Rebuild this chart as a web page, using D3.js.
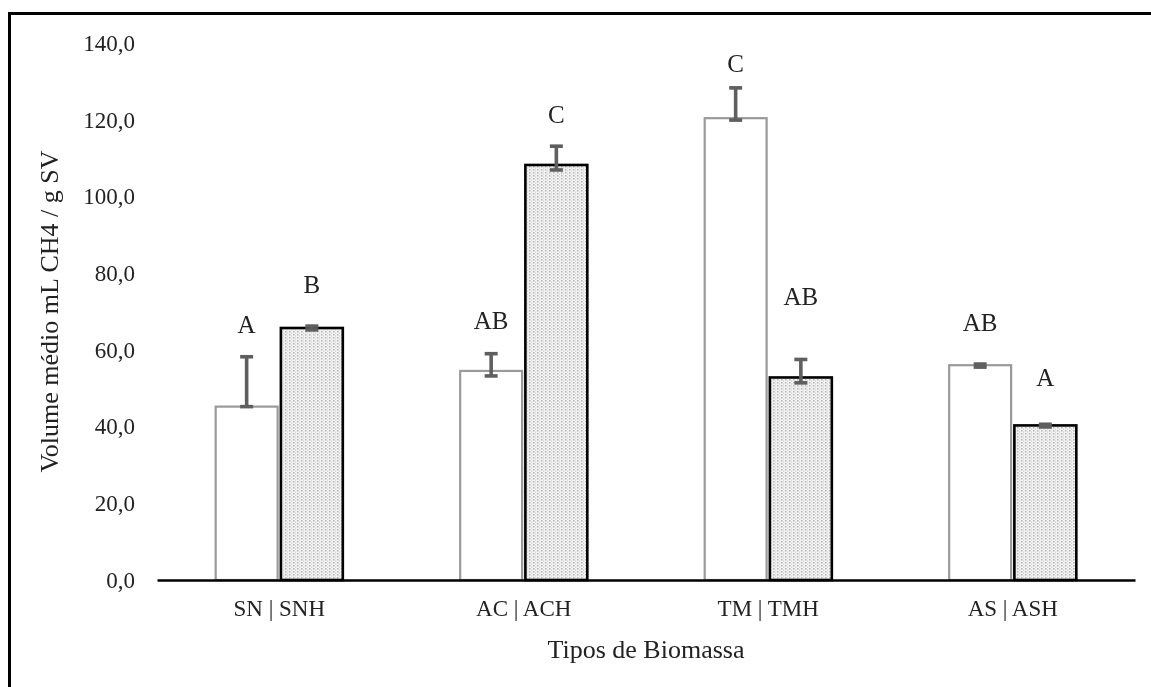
<!DOCTYPE html>
<html>
<head>
<meta charset="utf-8">
<script src="https://cdn.jsdelivr.net/npm/d3@7"></script>
<style>
  body { margin: 0; background: #fff; }
  svg { will-change: transform; }
  text { font-family: "Liberation Serif", "DejaVu Serif", serif; fill: #222; }
</style>
</head>
<body>
<div id="holder"></div>
<script>
var width = 1151;
var height = 687;
var margin = {top: 43, right: 16, bottom: 107, left: 157};

// data
var categories = ["SN | SNH", "AC | ACH", "TM | TMH", "AS | ASH"];
var plainValues = [45.2, 54.5, 120.4, 56.0];      // SN, AC, TM, AS
var hydroValues = [65.7, 108.2, 52.8, 40.3];      // SNH, ACH, TMH, ASH
var plainErrLow = [45.2, 53.2, 119.9, 55.5];
var plainErrHigh = [58.2, 59.0, 128.3, 56.3];
var hydroErrLow = [65.2, 106.9, 51.4, 39.9];
var hydroErrHigh = [66.2, 113.1, 57.5, 40.6];
var plainLetters = ["A", "AB", "C", "AB"];
var hydroLetters = ["B", "C", "AB", "A"];
// level (in axis units) where each letter sits
var plainLetterAt = [64.4, 65.4, 132.4, 64.9];
var hydroLetterAt = [74.8, 119.1, 71.7, 50.6];
var yTicks = [0, 20, 40, 60, 80, 100, 120, 140];

var svg = d3.select("#holder")
  .append("svg")
  .attr("width", width)
  .attr("height", height);

var defs = svg.append("defs");
var pat = defs.append("pattern")
  .attr("id", "dots")
  .attr("patternUnits", "userSpaceOnUse")
  .attr("width", 4)
  .attr("height", 3);
pat.append("rect").attr("width", 4).attr("height", 3).attr("fill", "#f4f4f4");
pat.append("rect").attr("x", 0).attr("y", 0).attr("width", 1.5).attr("height", 1.5).attr("fill", "#b4b4b4");
pat.append("rect").attr("x", 2).attr("y", 1.5).attr("width", 1.2).attr("height", 1.2).attr("fill", "#cfcfcf");

// outer frame (only top/left visible in picture)
svg.append("rect")
  .attr("x", 9.5)
  .attr("y", 13.5)
  .attr("width", 1200)
  .attr("height", 800)
  .attr("fill", "none")
  .attr("stroke", "#000")
  .attr("stroke-width", 3);

var innerW = width - margin.left - margin.right;
var innerH = 580 - margin.top;

var g = svg.append("g")
  .attr("transform", "translate(" + margin.left + "," + margin.top + ")");

var x0 = d3.scaleBand()
  .domain(categories)
  .range([0, innerW]);

var x1 = d3.scaleBand()
  .domain(["plain", "hydro"])
  .range([x0.bandwidth() * 0.24, x0.bandwidth() * 0.76])
  .paddingInner(0.05);

var y = d3.scaleLinear()
  .domain([0, 140])
  .range([innerH, 0]);

// y axis labels (no axis line)
var yAxis = d3.axisLeft(y)
  .tickValues(yTicks)
  .tickSize(0)
  .tickPadding(22)
  .tickFormat(function(d) { return d3.format(".1f")(d).replace(".", ","); });

var yg = g.append("g").call(yAxis);
yg.attr("font-family", null).attr("font-size", null);
yg.select(".domain").remove();
yg.selectAll("text")
  .style("font-size", "23px")
  .attr("fill", "#222");

var rows = categories.map(function(c, i) {
  return [
    {cat: c, key: "plain", v: plainValues[i], lo: plainErrLow[i], hi: plainErrHigh[i], letter: plainLetters[i], at: plainLetterAt[i]},
    {cat: c, key: "hydro", v: hydroValues[i], lo: hydroErrLow[i], hi: hydroErrHigh[i], letter: hydroLetters[i], at: hydroLetterAt[i]}
  ];
});
var flat = [].concat.apply([], rows);

function bx(d) { return x0(d.cat) + x1(d.key); }

g.selectAll("rect.bar")
  .data(flat)
  .enter().append("rect")
  .attr("class", "bar")
  .attr("x", bx)
  .attr("y", function(d) { return y(d.v); })
  .attr("width", x1.bandwidth())
  .attr("height", function(d) { return innerH - y(d.v); })
  .attr("fill", function(d) { return d.key == "plain" ? "#fff" : "url(#dots)"; })
  .attr("stroke", function(d) { return d.key == "plain" ? "#9a9a9a" : "#000"; })
  .attr("stroke-width", function(d) { return d.key == "plain" ? 2.2 : 2.6; });

// error bars
var eb = g.selectAll("g.err")
  .data(flat)
  .enter().append("g")
  .attr("class", "err")
  .attr("stroke", "#5f5f5f")
  .attr("stroke-width", 3.6);

eb.append("line")
  .attr("x1", function(d) { return bx(d) + x1.bandwidth() / 2; })
  .attr("x2", function(d) { return bx(d) + x1.bandwidth() / 2; })
  .attr("y1", function(d) { return y(d.lo); })
  .attr("y2", function(d) { return y(d.hi); });
eb.append("line")
  .attr("x1", function(d) { return bx(d) + x1.bandwidth() / 2 - 6.5; })
  .attr("x2", function(d) { return bx(d) + x1.bandwidth() / 2 + 6.5; })
  .attr("y1", function(d) { return y(d.hi); })
  .attr("y2", function(d) { return y(d.hi); });
eb.append("line")
  .attr("x1", function(d) { return bx(d) + x1.bandwidth() / 2 - 6.5; })
  .attr("x2", function(d) { return bx(d) + x1.bandwidth() / 2 + 6.5; })
  .attr("y1", function(d) { return y(d.lo); })
  .attr("y2", function(d) { return y(d.lo); });

// significance letters
g.selectAll("text.letter")
  .data(flat)
  .enter().append("text")
  .attr("class", "letter")
  .attr("x", function(d) { return bx(d) + x1.bandwidth() / 2; })
  .attr("y", function(d) { return y(d.at); })
  .attr("text-anchor", "middle")
  .style("font-size", "25px")
  .text(function(d) { return d.letter; });

// x axis
var xAxis = d3.axisBottom(x0).tickSize(0).tickPadding(20);
var xg = g.append("g")
  .attr("transform", "translate(0," + innerH + ")")
  .call(xAxis);
xg.attr("font-family", null).attr("font-size", null);
xg.select(".domain")
  .attr("stroke", "#000")
  .attr("stroke-width", 2.5);
xg.selectAll("text")
  .style("font-size", "23px")
  .attr("fill", "#222");

// axis titles
svg.append("text")
  .attr("x", margin.left + innerW / 2)
  .attr("y", 658)
  .attr("text-anchor", "middle")
  .style("font-size", "26px")
  .text("Tipos de Biomassa");

svg.append("text")
  .attr("transform", "translate(58," + (margin.top + innerH / 2) + ") rotate(-90)")
  .attr("text-anchor", "middle")
  .style("font-size", "26px")
  .text("Volume médio mL CH4 / g SV");
</script>
</body>
</html>
